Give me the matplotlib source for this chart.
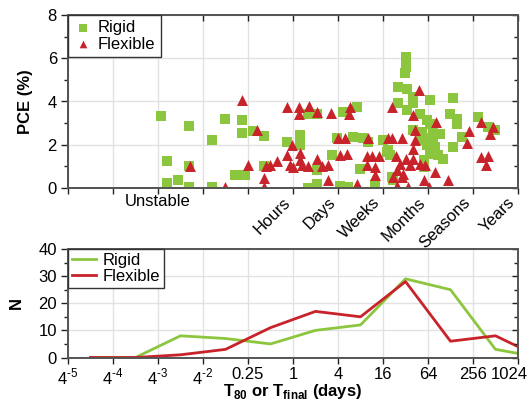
import matplotlib
matplotlib.use("Agg")
import matplotlib.pyplot as plt
import matplotlib.transforms as mtransforms
from matplotlib.ticker import MultipleLocator, FixedLocator, NullLocator

plt.rcParams['font.family'] = ['Liberation Sans', 'DejaVu Sans']
plt.rcParams['mathtext.fontset'] = 'custom'
plt.rcParams['mathtext.rm'] = 'Liberation Sans'
plt.rcParams['mathtext.bf'] = 'Liberation Sans:bold'

GREEN = '#8cc63f'
RED = '#c8222a'
FRAME = '#555555'
TICK = '#222222'
GRID = '#e2e2e2'

# Device lifetime (log4 of days) and efficiency for each device
rigid_logt = [-2.93, -2.31, -2.81, -2.81, -2.56, -2.31, -2.31, -1.81, -1.81, -1.51,
              -1.14, -1.14, -0.90, -0.64, -1.30, -1.07, -0.64,
              -0.14, 0.16, 0.16, 0.34, 0.53, 0.53, 0.53, 0.34, 0.86, 0.97, 1.12,
              1.42, 1.34, 1.56, 1.04, 1.23, 1.49, 1.67, 1.82, 2.01, 2.08,
              2.51, 2.51, 2.49, 2.34, 2.53, 2.67, 3.04, 3.56, 2.34, 2.53, 2.67,
              2.82, 2.97, 3.04, 3.12, 3.27, 2.67, 2.86, 2.90, 3.12, 2.97, 3.16,
              3.04, 3.23, 3.34, 2.90, 2.82, 3.49, 3.64, 3.64, 3.75, 3.56, 4.12,
              4.34, 4.49, 2.12, 2.16, 2.19, 2.23, 2.90]
rigid_pce = [3.32, 2.89, 1.25, 0.23, 0.39, 0.05, 1.00, 2.21, 0.05, 3.20,
             3.13, 2.56, 2.64, 2.39, 0.62, 0.62, 1.00,
             2.13, 2.44, 1.98, 3.44, 3.44, 0.82, 0.20, 0.02, 1.51, 2.29, 3.52,
             3.75, 2.36, 2.29, 0.08, 0.05, 0.90, 2.13, 0.13, 2.21, 1.67,
             6.07, 5.60, 5.30, 4.68, 4.60, 4.21, 4.06, 4.14, 3.91, 3.60, 3.91,
             3.44, 3.13, 2.98, 2.67, 2.52, 2.67, 2.59, 2.29, 2.29, 1.98, 1.90,
             1.59, 1.51, 1.36, 1.28, 2.21, 3.44, 3.21, 2.98, 2.36, 1.90, 3.29,
             2.82, 2.70, 1.75, 1.51, 0.51, 0.36, 0.97]

flex_logt = [-2.30, -1.14, -0.81, -1.01, -1.51, -0.60, -0.64, -0.64,
             -0.14, 0.14, 0.14, 0.36, 0.53, 0.84, 1.27, 1.25, -0.02, 0.16,
             -0.14, 0.16, -0.36, -0.51, -0.07, 0.01, 0.19, 0.34, 0.53, 0.64,
             0.78, 0.78, 1.01, 1.16, 1.04, 1.19, 1.42, 1.64, 1.67, 1.75, 1.90,
             1.64, 1.82, 1.82, 2.12,
             2.81, 2.21, 2.66, 3.18, 2.71, 2.71, 2.19, 2.42, 2.67, 2.29, 2.51,
             2.67, 2.38, 2.60, 2.82, 2.93, 2.30, 2.45, 3.16, 2.23, 2.42, 2.30,
             2.56, 2.90, 3.03, 3.45, 3.92, 3.87, 4.17, 4.45, 4.38, 4.17, 4.34,
             4.29]
flex_pce = [1.00, 4.09, 2.67, 1.05, 0.05, 1.00, 0.48, 0.05,
            3.75, 3.75, 3.44, 3.78, 3.52, 3.49, 3.75, 3.44, 1.98, 1.62,
            1.51, 1.28, 1.24, 1.05, 1.05, 0.97, 1.05, 1.00, 1.33, 1.02,
            1.05, 0.36, 2.29, 2.29, 1.51, 1.56, 0.20, 1.47, 2.29, 1.47, 1.47,
            1.05, 0.97, 0.59, 2.29,
            4.55, 3.75, 3.37, 3.06, 2.67, 2.24, 2.33, 2.33, 1.82, 1.47, 1.36,
            1.36, 1.13, 1.05, 1.10, 1.05, 0.82, 0.67, 0.74, 0.51, 0.51, 0.08,
            0.05, 0.39, 0.05, 0.36, 2.64, 2.06, 3.06, 2.80, 2.52, 1.44, 1.47,
            1.05]

# Histogram of lifetimes (bin centres in log4 days)
bin_logt = [-4.5, -3.5, -2.5, -1.5, -0.5, 0.5, 1.5, 2.5, 3.5, 4.5, 5.5]
rigid_n = [0, 0, 8, 7, 5, 10, 12, 29, 25, 3, 0]
flex_n = [0, 0, 1, 3, 11, 17, 15, 28, 6, 8, 0]

tick_exp = list(range(-5, 6))
top_labels = {-3: 'Unstable', 0: 'Hours', 1: 'Days', 2: 'Weeks',
              3: 'Months', 4: 'Seasons', 5: 'Years'}
bottom_labels = ['4$^{\\text{-}5}$', '4$^{\\text{-}4}$', '4$^{\\text{-}3}$',
                 '4$^{\\text{-}2}$', '0.25', '1', '4', '16', '64', '256', '1024']

XMIN, XMAX = 4.0 ** -5, 4.0 ** 5
xticks = [4.0 ** k for k in tick_exp]

fig = plt.figure(figsize=(5.31, 4.03), dpi=100)
ax1 = fig.add_axes([68 / 531, 1 - 188 / 403, 450 / 531, 173 / 403])
ax2 = fig.add_axes([68 / 531, 1 - 357.5 / 403, 450 / 531, 108.5 / 403])


def style(ax):
    for s in ax.spines.values():
        s.set_color(FRAME)
        s.set_linewidth(1.2)
    ax.set_xscale('log', base=4)
    ax.set_xlim(XMIN, XMAX)
    ax.xaxis.set_major_locator(FixedLocator(xticks))
    ax.xaxis.set_minor_locator(NullLocator())
    ax.grid(True, which='major', color=GRID, linewidth=1.0)
    ax.set_axisbelow(True)
    ax.tick_params(which='both', direction='out', color=TICK, labelsize=12)
    ax.tick_params(axis='y', which='major', length=5, width=1, pad=3)
    ax.tick_params(axis='y', which='minor', length=3, width=1)
    ax.tick_params(axis='x', which='major', length=4, width=1, pad=3)


def mirror(ax, ymajor, yminor, top):
    """Inward ticks on the right (and optionally top) edge."""
    r = ax.twinx()
    r.set_ylim(ax.get_ylim())
    r.yaxis.set_major_locator(MultipleLocator(ymajor))
    r.yaxis.set_minor_locator(MultipleLocator(yminor))
    r.tick_params(which='both', direction='in', labelright=False, color=TICK)
    r.tick_params(which='major', length=4, width=1)
    r.tick_params(which='minor', length=3, width=1)
    for s in r.spines.values():
        s.set_color(FRAME)
        s.set_linewidth(1.2)
    last = r
    if top:
        t = ax.twiny()
        t.set_xscale('log', base=4)
        t.set_xlim(XMIN, XMAX)
        t.xaxis.set_major_locator(FixedLocator(xticks))
        t.xaxis.set_minor_locator(NullLocator())
        t.tick_params(which='major', direction='in', labeltop=False,
                      color=TICK, length=4, width=1)
        for s in t.spines.values():
            s.set_color(FRAME)
            s.set_linewidth(1.2)
        last = t
    return last


# Top: efficiency versus stability class
style(ax1)
h_r = ax1.scatter([4.0 ** v for v in rigid_logt], rigid_pce, marker='s', s=52,
                  color=GREEN, linewidths=0, label='Rigid', zorder=3)
h_f = ax1.scatter([4.0 ** v for v in flex_logt], flex_pce, marker='^', s=62,
                  color=RED, linewidths=0, label='Flexible', zorder=4)
ax1.set_ylim(0, 8)
ax1.yaxis.set_major_locator(MultipleLocator(2))
ax1.yaxis.set_minor_locator(MultipleLocator(1))
ax1.set_ylabel('PCE (%)', fontsize=12, fontweight='bold')
ax1.yaxis.set_label_coords(-0.078, 0.5)
ax1.set_xticklabels([''] * len(tick_exp))
for k, name in top_labels.items():
    if k == -3:
        ax1.text(4.0 ** k, -0.3, name, ha='center', va='top', fontsize=12)
    else:
        ax1.text(4.0 ** k, -0.3, name, ha='right', va='top', fontsize=12,
                 rotation=45)
top1 = mirror(ax1, 2, 1, top=True)
leg1 = top1.legend([h_r, h_f], ['Rigid', 'Flexible'], loc='upper left',
                   borderaxespad=0, fancybox=False, edgecolor='#333333',
                   fontsize=12, handletextpad=0.3, borderpad=0.3,
                   labelspacing=0.1, markerscale=0.7, handlelength=1.2,
                   framealpha=1)
leg1.get_frame().set_linewidth(1.0)

# Bottom: number of devices per lifetime bin
style(ax2)
l_r, = ax2.plot([4.0 ** v for v in bin_logt], rigid_n, color=GREEN, lw=2)
l_f, = ax2.plot([4.0 ** v for v in bin_logt], flex_n, color=RED, lw=2)
ax2.set_ylim(0, 40)
ax2.yaxis.set_major_locator(MultipleLocator(10))
ax2.yaxis.set_minor_locator(MultipleLocator(5))
ax2.set_xticklabels(bottom_labels)
last_label = ax2.get_xticklabels()[-1]
last_label.set_transform(last_label.get_transform() +
                         mtransforms.ScaledTranslation(-9 / 100, 0,
                                                       fig.dpi_scale_trans))
ax2.set_ylabel('N', fontsize=12, fontweight='bold')
ax2.yaxis.set_label_coords(-0.098, 0.5)
ax2.set_xlabel('T$_{\\mathbf{80}}$ or T$_{\\mathbf{final}}$ (days)', fontsize=12,
               fontweight='bold')
ax2.xaxis.set_label_coords(0.5, -0.225)
top2 = mirror(ax2, 10, 5, top=False)
leg2 = top2.legend([l_r, l_f], ['Rigid', 'Flexible'], loc='upper left',
                   borderaxespad=0, fancybox=False, edgecolor='#333333',
                   fontsize=12, handletextpad=0.4, borderpad=0.25,
                   labelspacing=0.05, handlelength=1.4, framealpha=1)
leg2.get_frame().set_linewidth(1.0)

fig.savefig('out.png', dpi=100)
